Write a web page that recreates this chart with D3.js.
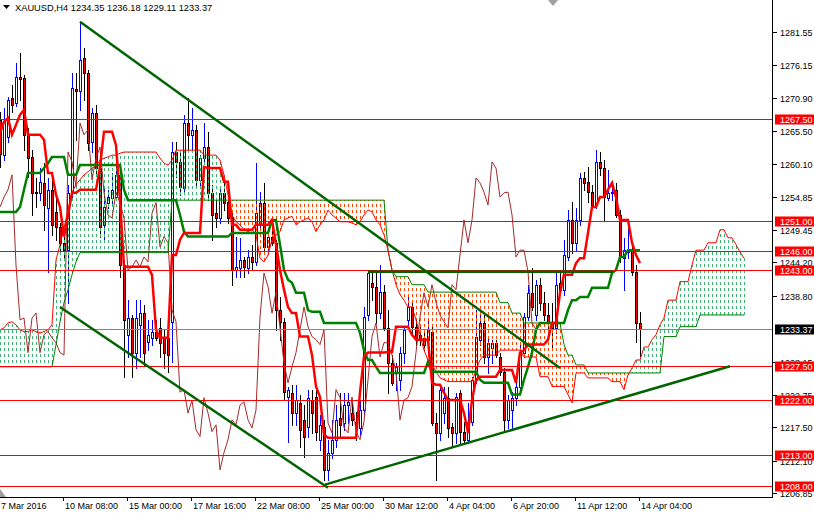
<!DOCTYPE html>
<html><head><meta charset="utf-8">
<script src="https://cdn.jsdelivr.net/npm/d3@7"></script>
<style>
body{margin:0;background:#fff}
svg{display:block}
text{font-family:"Liberation Sans",Arial,sans-serif}
</style>
</head><body>
<svg id="c" width="814" height="514"></svg>
<script>
// ---------------- DATA ----------------
const symbol = "XAUUSD,H4";
const lastOHLC = [1234.35, 1236.18, 1229.11, 1233.37];

const opens = [1267.3,1261.6,1264.5,1270.9,1270.1,1274.3,1274.1,1264.9,1261.3,1255.6,1255.5,1257.1,1253.0,1256.0,1252.4,1250.0,1247.4,1246.2,1255.5,1272.3,
1272.0,1277.3,1274.9,1263.7,1268.4,1259.5,1250.3,1253.9,1254.7,1254.8,1258.4,1243.8,1232.5,1235.2,1229.6,1234.1,1236.0,1231.3,1232.0,1233.0,
1233.6,1232.0,1232.0,1234.6,1262.1,1260.5,1256.3,1266.8,1264.9,1265.7,1257.6,1261.1,1262.9,1255.5,1252.2,1251.4,1255.5,1254.0,1251.4,1243.0,
1243.3,1244.6,1243.3,1245.1,1244.3,1250.3,1253.9,1246.7,1248.4,1247.4,1236.5,1234.6,1222.4,1223.1,1219.8,1221.5,1218.7,1217.6,1221.9,1222.4,
1215.5,1217.6,1210.6,1213.4,1215.5,1219.0,1218.2,1221.1,1219.8,1218.4,1217.4,1220.3,1235.7,1240.9,1240.3,1236.0,1239.4,1233.6,1227.9,1226.3,
1225.2,1229.6,1234.9,1237.0,1233.8,1232.5,1232.0,1231.7,1233.0,1218.2,1216.6,1219.8,1222.3,1217.6,1216.6,1223.1,1216.8,1215.5,1218.4,1225.2,
1231.7,1234.4,1228.9,1230.4,1231.2,1228.9,1226.5,1218.7,1220.3,1222.3,1224.1,1229.6,1235.4,1239.3,1235.7,1240.6,1237.7,1235.7,1234.6,1233.6,
1240.9,1239.8,1245.1,1251.1,1247.4,1251.1,1257.9,1257.3,1255.6,1253.5,1260.5,1259.5,1254.7,1255.5,1256.0,1251.9,1244.9,1245.9,1246.2,1242.7,
1234.35];
const highs = [1268.6,1269.2,1271.0,1273.0,1276.5,1278.2,1274.6,1266.0,1262.4,1257.9,1259.5,1260.3,1257.9,1258.7,1254.8,1250.6,1248.7,1256.8,1274.9,1274.9,
1283.2,1279.0,1275.4,1269.2,1269.7,1260.8,1256.5,1256.0,1258.7,1260.3,1259.2,1244.6,1238.1,1235.7,1238.1,1238.1,1237.3,1234.9,1234.9,1234.9,
1235.2,1233.3,1234.4,1263.7,1263.7,1262.1,1268.1,1270.9,1269.2,1266.5,1261.6,1266.8,1265.4,1256.8,1254.3,1256.3,1257.6,1256.0,1252.7,1248.4,
1248.2,1245.1,1246.2,1247.1,1260.3,1255.6,1257.1,1249.5,1250.6,1247.9,1238.6,1235.2,1224.1,1224.4,1224.4,1222.8,1221.1,1223.6,1223.6,1224.4,
1219.5,1218.7,1215.5,1218.7,1221.1,1223.1,1223.1,1223.1,1221.5,1220.0,1221.9,1237.0,1243.0,1242.5,1242.5,1243.8,1240.6,1236.5,1229.2,1227.9,
1230.5,1233.8,1239.0,1238.1,1235.2,1234.1,1233.3,1234.9,1234.1,1219.8,1224.1,1224.1,1224.1,1218.2,1223.1,1223.6,1218.4,1221.5,1225.7,1236.5,
1236.5,1236.0,1232.2,1231.7,1231.7,1229.6,1227.1,1222.8,1223.2,1224.7,1230.9,1236.0,1240.6,1243.3,1241.4,1241.7,1239.4,1237.7,1237.7,1242.5,
1242.5,1247.9,1252.7,1254.0,1253.0,1258.7,1258.9,1259.7,1256.8,1262.4,1262.1,1260.8,1259.2,1256.5,1257.1,1252.7,1248.2,1250.6,1247.4,1243.8,
1236.18];
const lows = [1259.7,1260.8,1263.7,1268.6,1269.6,1270.5,1262.4,1258.1,1251.9,1253.2,1254.3,1249.5,1242.7,1248.7,1247.9,1246.2,1244.9,1237.7,1254.3,1264.1,
1268.9,1270.5,1262.4,1262.1,1258.4,1248.4,1247.9,1253.0,1253.9,1254.3,1241.9,1225.7,1228.9,1225.7,1227.1,1228.9,1227.6,1230.0,1230.9,1231.7,
1228.9,1227.1,1226.5,1228.1,1258.1,1255.2,1255.6,1262.1,1262.4,1256.5,1256.5,1260.5,1254.3,1247.9,1250.0,1250.6,1252.7,1250.6,1240.6,1241.9,
1241.9,1241.9,1242.5,1243.0,1243.8,1249.5,1246.2,1246.2,1247.1,1233.3,1231.7,1221.9,1215.1,1217.9,1217.9,1214.3,1212.7,1216.0,1216.6,1215.5,
1213.8,1209.0,1209.0,1212.5,1214.3,1216.0,1217.1,1218.2,1217.9,1215.5,1216.3,1219.5,1234.9,1238.1,1234.4,1235.2,1233.3,1223.1,1224.4,1223.6,
1223.6,1227.9,1234.1,1232.5,1230.9,1230.9,1230.0,1231.2,1217.9,1209.0,1215.5,1218.2,1216.0,1214.3,1215.0,1215.0,1215.0,1215.0,1217.9,1224.7,
1230.9,1227.9,1226.3,1227.9,1228.9,1226.0,1217.1,1217.4,1217.4,1221.1,1223.6,1228.9,1234.9,1236.5,1234.9,1236.5,1234.9,1231.7,1230.0,1232.8,
1239.3,1239.0,1244.6,1245.8,1246.2,1250.3,1256.0,1254.0,1253.2,1253.0,1258.4,1251.1,1254.3,1254.3,1251.6,1244.3,1239.8,1244.9,1242.2,1231.3,
1229.11];
const closes = [1261.8,1267.0,1270.5,1269.7,1274.3,1273.9,1264.9,1261.1,1255.5,1255.5,1257.3,1253.5,1256.0,1250.3,1250.0,1247.4,1246.2,1255.5,1272.5,1272.0,
1277.0,1274.9,1263.6,1268.4,1259.5,1250.0,1253.2,1254.8,1256.0,1258.4,1243.8,1234.9,1235.2,1229.6,1235.2,1236.0,1229.6,1232.5,1233.0,1232.0,
1231.2,1229.6,1229.2,1262.1,1260.5,1256.5,1266.8,1264.9,1265.7,1257.6,1261.1,1262.9,1255.5,1251.9,1251.4,1255.5,1253.9,1251.4,1243.0,1243.5,
1244.6,1243.5,1245.1,1244.3,1252.2,1253.9,1246.7,1248.4,1247.4,1236.5,1234.6,1223.2,1223.6,1219.8,1221.9,1217.1,1216.0,1222.3,1219.8,1216.8,
1217.9,1210.6,1213.4,1215.5,1218.7,1217.9,1221.1,1221.6,1218.7,1217.4,1220.3,1235.4,1242.5,1240.3,1236.0,1239.4,1233.6,1227.9,1224.7,1227.3,
1229.6,1233.3,1237.0,1233.8,1232.2,1231.7,1230.9,1233.3,1218.2,1216.6,1223.6,1222.3,1217.4,1216.6,1222.4,1216.8,1215.5,1218.4,1225.2,1232.2,
1234.4,1228.9,1231.2,1231.2,1229.2,1226.5,1218.7,1221.9,1222.3,1224.1,1229.6,1235.4,1239.3,1237.0,1240.6,1237.7,1235.7,1234.6,1233.6,1240.6,
1239.8,1245.4,1251.1,1247.4,1251.1,1257.9,1257.1,1255.6,1253.5,1260.5,1259.5,1254.8,1255.5,1255.6,1251.9,1245.1,1246.2,1246.2,1242.7,1234.4,
1233.37];

const tenkan = [1265.2,1267.0,1267.6,1264.9,1266.5,1268.1,1268.9,1264.9,1264.9,1264.9,1264.9,1264.1,1258.7,1258.7,1255.2,1253.2,1248.4,1251.9,1255.5,1255.5,
1256.0,1256.0,1256.0,1256.0,1256.0,1259.7,1265.4,1265.4,1265.4,1263.2,1254.3,1243.5,1243.5,1243.5,1243.5,1243.5,1243.5,1243.5,1242.2,1233.3,
1232.0,1232.0,1232.0,1245.4,1245.4,1247.9,1249.0,1249.0,1249.0,1249.0,1249.0,1259.7,1259.5,1259.5,1259.5,1259.5,1257.3,1257.3,1250.3,1250.3,
1249.5,1249.5,1249.5,1249.5,1250.3,1250.3,1250.3,1250.3,1251.1,1247.1,1243.0,1239.8,1237.0,1236.0,1236.0,1232.2,1232.2,1232.2,1229.2,1224.1,
1222.4,1216.3,1215.8,1215.8,1215.8,1215.8,1215.8,1215.8,1215.8,1215.8,1223.1,1228.9,1229.6,1229.6,1229.6,1229.6,1229.6,1229.7,1229.7,1233.8,
1233.8,1233.8,1233.8,1232.5,1231.7,1231.7,1231.7,1231.7,1224.7,1224.4,1224.4,1223.1,1221.9,1221.9,1221.9,1221.9,1219.8,1216.6,1221.9,1225.2,
1225.7,1225.7,1225.7,1225.7,1225.7,1226.8,1226.8,1226.8,1226.8,1224.7,1229.6,1230.0,1230.9,1230.9,1230.9,1230.9,1230.9,1231.7,1234.4,1234.4,
1239.3,1242.2,1242.2,1242.2,1244.1,1244.9,1244.9,1249.0,1253.2,1253.2,1254.8,1254.8,1256.0,1257.1,1254.8,1251.1,1251.1,1251.1,1247.4,1245.4,
1244.1];
const kijun = [1252.4,1252.4,1252.4,1252.4,1252.4,1253.2,1256.0,1258.7,1258.7,1258.7,1258.7,1259.5,1260.3,1261.3,1261.3,1261.3,1261.3,1258.4,1258.4,1258.4,
1260.0,1260.0,1260.0,1260.0,1260.0,1260.0,1260.0,1260.0,1260.0,1260.0,1260.0,1256.0,1254.3,1254.3,1254.3,1254.3,1254.3,1254.3,1254.3,1254.3,
1254.3,1254.3,1254.3,1254.3,1254.3,1251.9,1249.2,1248.4,1248.4,1248.4,1248.4,1248.4,1248.4,1248.4,1248.4,1248.4,1248.4,1248.4,1249.0,1249.0,
1249.0,1249.0,1249.0,1249.0,1249.0,1249.0,1249.0,1249.0,1251.1,1251.1,1247.1,1243.0,1241.4,1240.9,1239.3,1239.3,1239.3,1236.5,1236.2,1236.2,
1236.2,1234.4,1234.4,1234.4,1234.4,1234.4,1234.4,1234.4,1234.4,1234.4,1232.8,1230.0,1228.4,1228.4,1227.3,1226.3,1226.3,1226.3,1226.3,1226.3,
1226.3,1226.3,1226.3,1226.3,1226.3,1226.3,1226.3,1228.1,1226.5,1226.5,1226.5,1226.5,1226.5,1226.5,1226.5,1226.5,1226.5,1226.5,1226.5,1226.5,
1225.2,1224.7,1224.7,1224.7,1224.7,1224.7,1224.7,1224.7,1222.8,1222.8,1222.8,1225.2,1227.3,1229.6,1233.3,1234.4,1234.4,1234.4,1234.4,1234.4,
1234.4,1234.4,1236.5,1238.1,1238.1,1238.6,1238.6,1238.6,1240.1,1240.1,1240.1,1240.1,1240.1,1242.5,1243.0,1245.1,1245.1,1246.2,1246.2,1246.2,
1246.2];
const spanA = [1233.3,1233.6,1234.4,1234.6,1234.1,1233.3,1233.0,1233.0,1233.3,1233.0,1232.8,1233.0,1233.3,1234.1,1244.6,1247.1,1249.8,1252.7,1255.6,1256.8,
1257.6,1258.4,1258.9,1259.5,1259.8,1260.8,1261.1,1261.3,1261.6,1261.6,1261.9,1262.1,1262.1,1262.1,1262.1,1262.1,1262.1,1262.1,1262.1,1262.1,
1261.1,1260.3,1260.0,1260.8,1262.4,1262.4,1262.4,1262.4,1262.4,1262.4,1262.4,1261.6,1261.6,1261.6,1261.6,1260.8,1258.4,1255.2,1251.9,1250.8,
1250.3,1249.5,1249.2,1249.5,1248.7,1244.9,1244.3,1245.4,1247.9,1248.7,1249.2,1251.1,1251.4,1251.7,1250.3,1250.8,1251.1,1251.4,1250.8,1249.2,
1250.3,1251.1,1252.7,1251.9,1251.4,1250.8,1250.8,1250.8,1250.6,1250.3,1250.8,1251.9,1252.7,1252.4,1251.1,1250.3,1248.7,1246.2,1243.0,1240.6,
1239.0,1238.1,1237.0,1237.0,1234.9,1232.5,1230.0,1228.4,1227.6,1226.5,1225.5,1225.2,1224.9,1224.9,1224.9,1224.9,1224.9,1224.9,1224.9,1226.8,
1228.4,1229.2,1229.2,1229.2,1229.2,1230.0,1230.0,1230.0,1230.0,1230.0,1230.0,1228.9,1228.9,1228.9,1228.9,1225.7,1225.7,1225.7,1224.1,1224.1,
1224.1,1224.1,1222.8,1221.5,1226.3,1226.3,1226.3,1225.5,1225.5,1225.5,1225.5,1225.5,1225.5,1224.9,1224.9,1224.9,1223.6,1226.0,1227.1,1228.4,
1228.4,1230.5,1230.5,1231.7,1232.5,1234.1,1235.2,1238.1,1238.1,1238.1,1241.1,1241.1,1241.1,1243.8,1246.2,1246.2,1246.2,1247.4,1247.4,1247.4,
1249.5,1249.5,1248.2,1248.2,1247.1,1245.9,1244.9];
const spanB = [1227.3,1227.3,1227.3,1227.3,1227.3,1227.3,1227.3,1227.3,1227.3,1227.3,1227.3,1227.3,1227.3,1227.3,1230.9,1234.6,1237.7,1239.8,1242.2,1244.3,
1245.8,1245.8,1245.8,1245.8,1245.8,1245.8,1245.8,1245.8,1245.8,1245.8,1245.8,1245.8,1245.8,1245.8,1245.8,1245.8,1245.8,1245.8,1245.8,1245.8,
1245.8,1245.8,1245.8,1254.3,1254.3,1254.3,1254.3,1254.3,1254.3,1254.3,1254.3,1254.3,1254.3,1254.3,1254.3,1254.3,1254.3,1254.3,1254.3,1254.3,
1254.3,1254.3,1254.3,1254.3,1254.3,1254.3,1254.3,1254.3,1254.3,1254.3,1254.3,1254.3,1254.3,1254.3,1254.3,1254.3,1254.3,1254.3,1254.3,1254.3,
1254.3,1254.3,1254.3,1254.3,1254.3,1254.3,1254.3,1254.3,1254.3,1254.3,1254.3,1254.3,1254.3,1254.3,1254.3,1254.3,1254.3,1246.2,1243.0,1241.9,
1241.9,1241.9,1241.9,1240.6,1240.6,1240.6,1240.6,1239.4,1239.4,1239.4,1239.4,1239.4,1239.4,1239.4,1239.4,1239.4,1239.4,1239.4,1239.4,1239.4,
1239.4,1239.4,1239.4,1239.4,1239.4,1237.7,1237.7,1237.7,1236.0,1236.0,1236.0,1234.4,1234.4,1234.4,1234.4,1234.4,1234.4,1234.4,1234.4,1234.4,
1234.4,1230.9,1229.2,1229.2,1227.6,1227.6,1227.6,1226.3,1226.3,1226.3,1226.3,1226.3,1226.3,1226.3,1226.3,1226.3,1226.3,1226.3,1226.3,1226.3,
1226.3,1226.3,1226.3,1226.3,1226.3,1226.3,1232.2,1232.2,1232.2,1232.2,1233.8,1233.8,1233.8,1233.8,1233.8,1235.7,1235.7,1235.7,1235.7,1235.7,
1235.7,1235.7,1235.7,1235.7,1235.7,1235.7,1235.7];
const chikouShift = 26;

const levels = [1267.50, 1251.00, 1246.00, 1243.00, 1227.50, 1222.00, 1213.00, 1208.00];
const priceTicks = [1281.55,1276.15,1270.90,1265.50,1260.10,1254.85,1249.45,1244.20,1238.80,1228.15,1222.75,1217.50,1212.10,1206.85];
const timeTickBars = [0,16,32,48,64,80,96,112,128,144,160];
const timeTickLabels = ["7 Mar 2016","10 Mar 08:00","15 Mar 00:00","17 Mar 16:00","22 Mar 08:00","25 Mar 00:00","30 Mar 12:00","4 Apr 04:00","6 Apr 20:00","11 Apr 12:00","14 Apr 04:00"];
// trend lines: [bar1, price1, bar2, price2]
const trendLines = [[20,1283.2,140,1227.1],[15,1237.0,82,1207.7],[81.25,1208.2,182.5,1227.4],[92,1242.7,153.25,1242.7]];

// ---------------- CHART ----------------
const plotR = 772, plotB = 497;
const svg = d3.select('#c');
const x = d3.scaleLinear().domain([0,193]).range([0,772]);
const y = d3.scaleLinear().domain([1206.85,1281.55]).range([493,32]);
const px = i => Math.round(x(i));
const py = v => Math.round(y(v));

svg.append('defs').append('clipPath').attr('id','clip')
  .append('rect').attr('x',0).attr('y',0).attr('width',plotR).attr('height',plotB);
const g = svg.append('g').attr('clip-path','url(#clip)');

// candles
const bars = d3.range(opens.length).map(i=>({i,o:opens[i],h:highs[i],l:lows[i],c:closes[i]}));
const cg = g.append('g').attr('shape-rendering','crispEdges');
cg.selectAll('line.w').data(bars).join('line').attr('class','w')
  .attr('x1',d=>px(d.i)+0.5).attr('x2',d=>px(d.i)+0.5)
  .attr('y1',d=>py(d.h)).attr('y2',d=>py(d.l)+1)
  .attr('stroke',d=>d.c>=d.o?'#0000ff':'#000').attr('stroke-width',1);
cg.selectAll('rect.b').data(bars).join('rect').attr('class','b')
  .attr('x',d=>px(d.i)-0.5).attr('width',2)
  .attr('y',d=>py(Math.max(d.o,d.c))+0.5)
  .attr('height',d=>Math.max(0,py(Math.min(d.o,d.c))-py(Math.max(d.o,d.c))))
  .attr('fill',d=>d.c>=d.o?'#fff':'#ff0000')
  .attr('stroke',d=>d.c>=d.o?'#0000ff':'#000').attr('stroke-width',1);

// kumo (dotted histogram between spans)
const P = 6;
const kg = g.append('g').attr('shape-rendering','crispEdges');
kg.selectAll('line').data(d3.range(spanA.length)).join('line')
  .attr('x1',i=>px(i)+0.5).attr('x2',i=>px(i)+0.5)
  .attr('y1',i=>Math.min(py(spanA[i]),py(spanB[i])))
  .attr('y2',i=>Math.max(py(spanA[i]),py(spanB[i])))
  .attr('stroke',i=>spanA[i]>=spanB[i]?'#3cb371':'#ff4500')
  .attr('stroke-width',1)
  .attr('stroke-dasharray','3,3')
  .attr('stroke-dashoffset',i=>Math.min(py(spanA[i]),py(spanB[i]))%P);

const line = d3.line().x((d,i)=>x(i)).y(d=>y(d));
// chikou
g.append('path').datum(closes.slice(chikouShift)).attr('d',line)
  .attr('fill','none').attr('stroke','#a52a2a').attr('stroke-width',1);
// spans
g.append('path').datum(spanB).attr('d',line).attr('fill','none').attr('stroke','#008000').attr('stroke-width',1);
g.append('path').datum(spanA).attr('d',line).attr('fill','none').attr('stroke','#ff0000').attr('stroke-width',1);
// kijun, tenkan
g.append('path').datum(kijun).attr('d',line).attr('fill','none').attr('stroke','#008000').attr('stroke-width',2.5);
g.append('path').datum(tenkan).attr('d',line).attr('fill','none').attr('stroke','#ff0000').attr('stroke-width',2.5);

// horizontal levels
g.selectAll('line.lv').data(levels).join('line').attr('class','lv')
  .attr('x1',0).attr('x2',plotR).attr('y1',d=>py(d)+0.5).attr('y2',d=>py(d)+0.5)
  .attr('stroke','#ff0000').attr('stroke-width',1).attr('shape-rendering','crispEdges');
// bid line
g.append('line').attr('x1',0).attr('x2',plotR).attr('y1',py(lastOHLC[3])+0.5).attr('y2',py(lastOHLC[3])+0.5)
  .attr('stroke','#778899').attr('stroke-width',1).attr('shape-rendering','crispEdges');
// trend lines
g.selectAll('line.tl').data(trendLines).join('line').attr('class','tl')
  .attr('x1',d=>x(d[0])).attr('y1',d=>y(d[1])).attr('x2',d=>x(d[2])).attr('y2',d=>y(d[3]))
  .attr('stroke','#006400').attr('stroke-width',2.5);

// axes frame
svg.append('line').attr('x1',plotR+0.5).attr('x2',plotR+0.5).attr('y1',0).attr('y2',plotB+1).attr('stroke','#000').attr('shape-rendering','crispEdges');
svg.append('line').attr('x1',0).attr('x2',plotR+1).attr('y1',plotB+0.5).attr('y2',plotB+0.5).attr('stroke','#000').attr('shape-rendering','crispEdges');

// price ticks
const yt = svg.append('g');
priceTicks.forEach(v=>{
  yt.append('line').attr('x1',plotR+1).attr('x2',plotR+5).attr('y1',py(v)+0.5).attr('y2',py(v)+0.5).attr('stroke','#000').attr('shape-rendering','crispEdges');
  yt.append('text').attr('x',780).attr('y',py(v)+3.5).attr('font-size',9).attr('fill','#000').text(v.toFixed(2));
});
// level labels
levels.forEach(v=>{
  yt.append('rect').attr('x',plotR+3).attr('y',py(v)-4.5).attr('width',814-plotR-3).attr('height',10).attr('fill','#ff0000');
  yt.append('text').attr('x',780).attr('y',py(v)+3.5).attr('font-size',9).attr('fill','#fff').text(v.toFixed(2));
});
yt.append('rect').attr('x',plotR+3).attr('y',py(lastOHLC[3])-4.5).attr('width',814-plotR-3).attr('height',10).attr('fill','#000');
yt.append('text').attr('x',780).attr('y',py(lastOHLC[3])+3.5).attr('font-size',9).attr('fill','#fff').text(lastOHLC[3].toFixed(2));

// time ticks
const xt = svg.append('g');
timeTickBars.forEach((b,k)=>{
  const xx = px(b)-0.5;
  xt.append('line').attr('x1',xx).attr('x2',xx).attr('y1',plotB).attr('y2',plotB+4).attr('stroke','#000').attr('shape-rendering','crispEdges');
  xt.append('text').attr('x',xx+1.5).attr('y',509).attr('font-size',9).attr('fill','#000').text(timeTickLabels[k]);
});

// header
svg.append('path').attr('d','M3,5 L10,5 L6.5,9 Z').attr('fill','#000');
svg.append('text').attr('x',15).attr('y',11).attr('font-size',9.3).attr('fill','#000')
  .text(symbol + '  ' + lastOHLC.map(v=>v.toFixed(2)).join(' '));
// chart shift markers
svg.append('path').attr('d','M548,0 L558,0 L553,6 Z').attr('fill','#a0a0a0');
svg.append('path').attr('d','M0,489 L6,497 L0,497 Z').attr('fill','#a0a0a0');
</script>
</body></html>
